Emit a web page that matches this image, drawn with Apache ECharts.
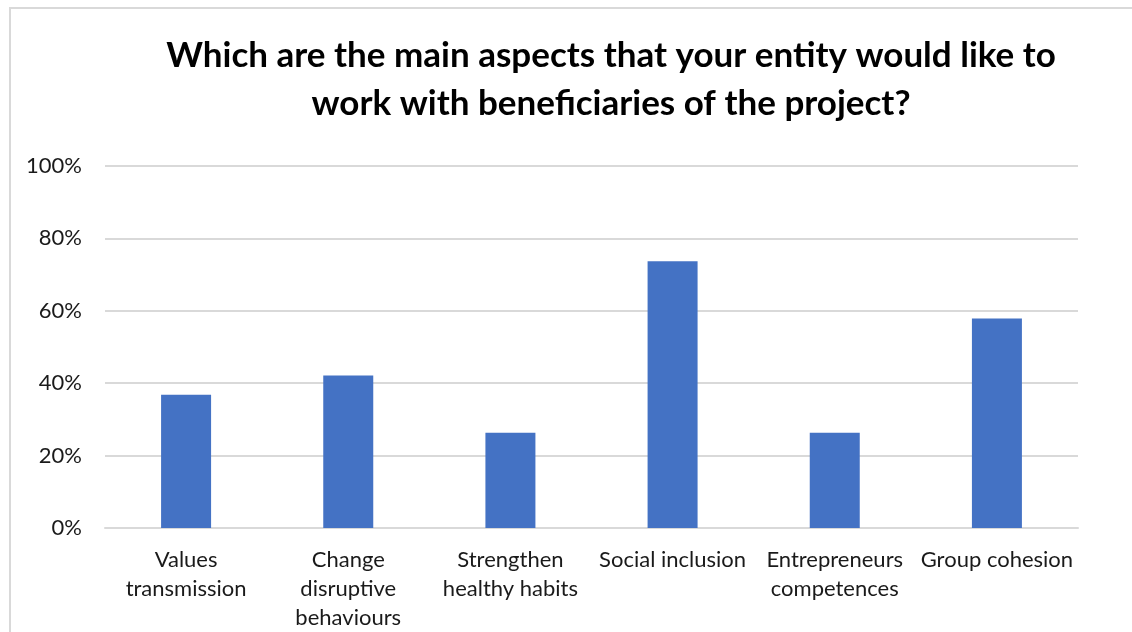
<!DOCTYPE html>
<html>
<head>
<meta charset="utf-8">
<script src="https://cdn.jsdelivr.net/npm/echarts@6/dist/echarts.min.js"></script>
<style>
  html, body { margin: 0; padding: 0; background: #fff; overflow: hidden; width: 1132px; height: 632px; }
  #frame {
    position: absolute; left: 9px; top: 7px; width: 1130px; height: 630px;
    border: 2px solid #d9d9d9; box-sizing: border-box;
  }
  #chart { position: absolute; left: 0; top: 0; width: 1132px; height: 632px; }
</style>
</head>
<body>
<div id="frame"></div>
<div id="chart"></div>
<script>
// category labels (x axis)
const categories = [
    'Values\ntransmission',
    'Change\ndisruptive\nbehaviours',
    'Strengthen\nhealthy habits',
    'Social inclusion',
    'Entrepreneurs\ncompetences',
    'Group cohesion'
];
// share of entities, percent
const shareValues = [36.8, 42.1, 26.3, 73.7, 26.3, 57.9];
// y axis ticks
const yTicks = [0, 20, 40, 60, 80, 100];

const textFont = 'Lato, "Open Sans", sans-serif';

const chart = echarts.init(document.getElementById('chart'), null, { renderer: 'canvas' });

chart.setOption({
    animation: false,
    title: {
        text: 'Which are the main aspects that your entity would like to\nwork with beneficiaries of the project?',
        left: 606,
        top: 27,
        textAlign: 'center',
        textStyle: {
            fontFamily: textFont,
            fontWeight: 'bold',
            fontSize: 35,
            lineHeight: 48,
            color: '#000'
        }
    },
    grid: {
        left: 105,
        right: 54,
        top: 166,
        bottom: 103,
        containLabel: false
    },
    xAxis: {
        type: 'category',
        data: categories,
        axisLine: { show: true, lineStyle: { color: '#d9d9d9', width: 2 } },
        axisTick: { show: false },
        axisLabel: {
            interval: 0,
            margin: 17,
            fontFamily: textFont,
            fontSize: 22,
            lineHeight: 29,
            color: '#1a1a1a'
        }
    },
    yAxis: {
        type: 'value',
        min: yTicks[0],
        max: yTicks[yTicks.length - 1],
        interval: 20,
        axisLine: { show: false },
        axisTick: { show: false },
        splitLine: { lineStyle: { color: '#d9d9d9', width: 2 } },
        axisLabel: {
            margin: 23,
            fontFamily: textFont,
            fontSize: 22,
            color: '#1a1a1a',
            formatter: '{value}%'
        }
    },
    series: [
        {
            type: 'bar',
            data: shareValues,
            barWidth: 50,
            itemStyle: { color: '#4472c4' }
        }
    ]
});
</script>
</body>
</html>
